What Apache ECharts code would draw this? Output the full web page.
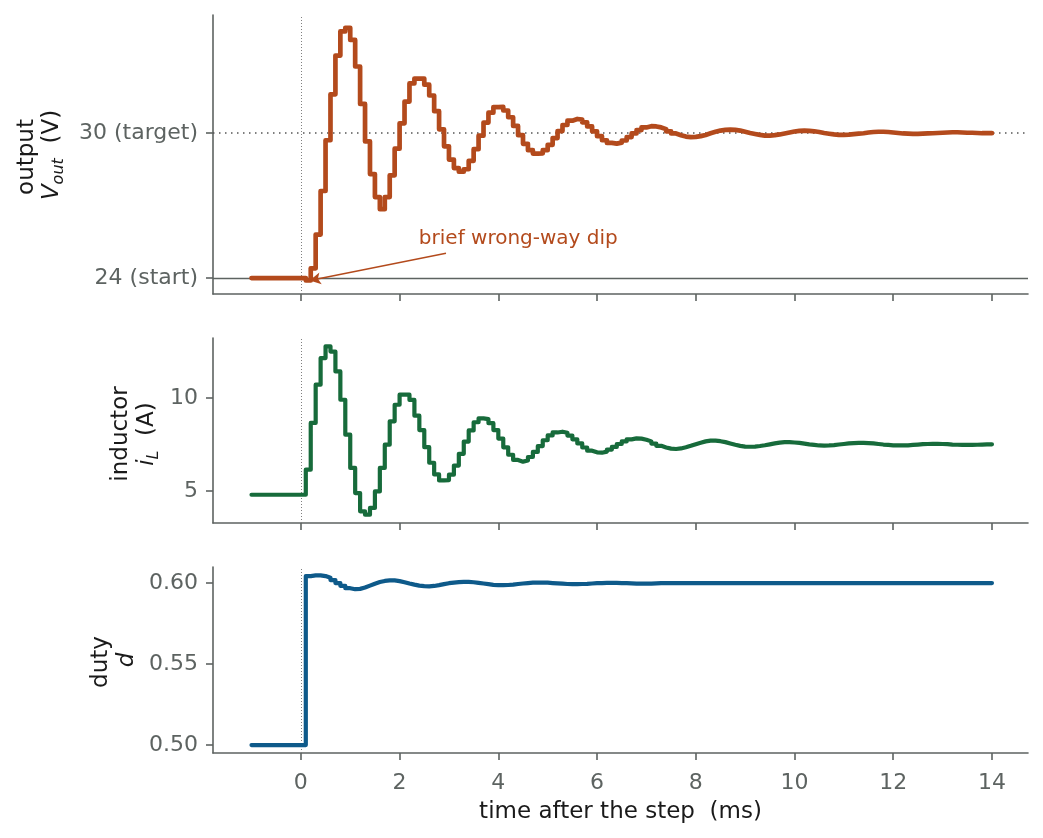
<!DOCTYPE html>
<html>
<head>
<meta charset="utf-8">
<title>boost converter step response</title>
<script src="https://cdn.jsdelivr.net/npm/echarts@6.0.0/dist/echarts.min.js"></script>
<style>
  html, body { margin: 0; padding: 0; background: #ffffff; }
  #chart { width: 1043px; height: 838px; }
</style>
</head>
<body>
<div id="chart"></div>
<script>
// sample clock of the simulation (ms), one sample every 0.1 ms from -1 to 14
var T_START = -1.0;
var T_STEP = 0.1;

// output voltage, V (held between samples)
var vout = [
  24, 24, 24, 24, 24, 24, 24, 24, 24, 24, 24,
  23.9, 24.4, 25.8, 27.6, 29.7, 31.6, 33.2, 34.2, 34.35, 33.85,
  32.75, 31.2, 29.65, 28.3, 27.35, 26.85, 27.35, 28.25, 29.35, 30.4,
  31.3, 32.05, 32.25, 32.25, 32.0, 31.55, 30.9, 30.15, 29.45, 28.9,
  28.55, 28.4, 28.5, 28.85, 29.33, 29.89, 30.43, 30.84, 31.07, 31.08,
  30.93, 30.65, 30.29, 29.91, 29.55, 29.29, 29.15, 29.16, 29.29, 29.51,
  29.79, 30.08, 30.33, 30.51, 30.58, 30.55, 30.44, 30.27, 30.07, 29.87,
  29.70, 29.59, 29.56, 29.6, 29.69, 29.83, 29.98, 30.12, 30.23, 30.28,
  30.27, 30.23, 30.16, 30.07, 29.98, 29.91, 29.85, 29.83, 29.84, 29.87,
  29.92, 29.99, 30.05, 30.1, 30.13, 30.14, 30.13, 30.1, 30.05, 30.0,
  29.96, 29.92, 29.89, 29.89, 29.91, 29.94, 29.98, 30.02, 30.06, 30.09,
  30.1, 30.09, 30.07, 30.04, 30.0, 29.97, 29.94, 29.92, 29.92, 29.93,
  29.95, 29.97, 29.99, 30.02, 30.04, 30.05, 30.05, 30.04, 30.02, 30.0,
  29.98, 29.97, 29.96, 29.96, 29.97, 29.98, 29.99, 30.0, 30.01, 30.02,
  30.03, 30.03, 30.02, 30.01, 30.01, 30.0, 29.99, 29.99, 29.99, 29.99
];

// inductor current, A
var iL = [
  4.8, 4.8, 4.8, 4.8, 4.8, 4.8, 4.8, 4.8, 4.8, 4.8, 4.8,
  6.15, 8.66, 10.72, 12.15, 12.78, 12.5, 11.43, 9.91, 8.03, 6.24,
  4.89, 3.91, 3.73, 4.09, 4.98, 6.24, 7.49, 8.75, 9.64, 10.18,
  10.18, 9.9, 9.05, 8.28, 7.36, 6.52, 5.89, 5.57, 5.59, 5.88,
  6.37, 7.0, 7.66, 8.26, 8.7, 8.91, 8.87, 8.65, 8.28, 7.82,
  7.35, 6.95, 6.67, 6.58, 6.64, 6.83, 7.1, 7.42, 7.73, 7.99,
  8.15, 8.19, 8.13, 7.98, 7.78, 7.56, 7.34, 7.17, 7.08, 7.06,
  7.12, 7.23, 7.37, 7.53, 7.67, 7.78, 7.83, 7.82, 7.76, 7.67,
  7.55, 7.43, 7.34, 7.28, 7.26, 7.29, 7.35, 7.43, 7.52, 7.6,
  7.67, 7.71, 7.71, 7.68, 7.63, 7.56, 7.49, 7.43, 7.39, 7.38,
  7.39, 7.42, 7.46, 7.51, 7.56, 7.6, 7.63, 7.63, 7.61, 7.59,
  7.55, 7.51, 7.48, 7.45, 7.44, 7.45, 7.47, 7.5, 7.53, 7.56,
  7.58, 7.59, 7.59, 7.58, 7.56, 7.53, 7.5, 7.48, 7.46, 7.45,
  7.45, 7.46, 7.48, 7.5, 7.52, 7.53, 7.54, 7.54, 7.53, 7.52,
  7.5, 7.49, 7.48, 7.48, 7.48, 7.49, 7.5, 7.51, 7.51, 7.51
];

// duty cycle
var duty = [
  0.5, 0.5, 0.5, 0.5, 0.5, 0.5, 0.5, 0.5, 0.5, 0.5, 0.5,
  0.6043, 0.6047, 0.6047, 0.6043, 0.6033, 0.6018, 0.6, 0.5983, 0.5968, 0.5962,
  0.5964, 0.5972, 0.5984, 0.5996, 0.6006, 0.6013, 0.6016, 0.6016, 0.6012, 0.6005,
  0.5997, 0.599, 0.5984, 0.5981, 0.598, 0.5982, 0.5987, 0.5993, 0.5999, 0.6003,
  0.6006, 0.6007, 0.6007, 0.6005, 0.6001, 0.5997, 0.5993, 0.5989, 0.5987, 0.5987,
  0.5988, 0.599, 0.5994, 0.5997, 0.6, 0.6002, 0.6003, 0.6003, 0.6002, 0.6,
  0.5998, 0.5996, 0.5994, 0.5993, 0.5993, 0.5994, 0.5995, 0.5997, 0.5999, 0.6,
  0.6001, 0.6001, 0.6001, 0.6, 0.5999, 0.5998, 0.5997, 0.5997, 0.5997, 0.5997,
  0.5998, 0.5999, 0.6, 0.6, 0.6, 0.6, 0.6, 0.5999, 0.5999, 0.5999,
  0.5999, 0.6, 0.6, 0.6, 0.6, 0.6, 0.6, 0.6, 0.6, 0.5999,
  0.5999, 0.5999, 0.5999, 0.6, 0.6, 0.6, 0.6, 0.6, 0.6, 0.6,
  0.6, 0.6, 0.6, 0.6, 0.6, 0.6, 0.6, 0.6, 0.6, 0.6,
  0.6, 0.6, 0.6, 0.6, 0.6, 0.6, 0.6, 0.6, 0.6, 0.6,
  0.6, 0.6, 0.6, 0.6, 0.6, 0.6, 0.6, 0.6, 0.6, 0.6,
  0.6, 0.6, 0.6, 0.6, 0.6, 0.6, 0.6, 0.6, 0.6, 0.6
];

// ticks
var timeTicks = [0, 2, 4, 6, 8, 10, 12, 14];
var voutTicks = [24, 30];
var voutTickLabels = ['24 (start)', '30 (target)'];
var iLTicks = [5, 10];
var dutyTicks = [0.5, 0.55, 0.6];

// reference levels and annotation
var vStart = 24;
var vTarget = 30;
var stepTime = 0;
var annotText = 'brief wrong-way dip';
var annotTextAt = [2.39, 25.61];
var annotArrowFrom = [2.94, 25.03];
var annotArrowTo = [0.18, 23.9];

var time = [];
for (var k = 0; k < vout.length; k++) {
  time.push(Math.round((T_START + k * T_STEP) * 10) / 10);
}

function pairs(vals) {
  return vals.map(function(v, i) { return [time[i], v]; });
}

var FONT = 'DejaVu Sans';
var AXIS_GRAY = '#5d6361';
var LABEL_GRAY = '#5d6361';
var INK = '#1a1a1a';
var C_VOUT = '#b34a1c';
var C_IL = '#176b3b';
var C_DUTY = '#0e5a8a';

var GRID_LEFT = 213, GRID_W = 815;

function xAxisFor(gridIndex, showLabels) {
  var ax = {
    type: 'value',
    gridIndex: gridIndex,
    min: -1.78,
    max: 14.73,
    splitLine: { show: false },
    axisLine: { show: true, onZero: false, lineStyle: { color: AXIS_GRAY, width: 1.6 } },
    axisTick: { show: true, length: 7, customValues: timeTicks, lineStyle: { color: AXIS_GRAY, width: 1.6 } },
    axisLabel: {
      show: showLabels, customValues: timeTicks, margin: 19,
      color: LABEL_GRAY, fontFamily: FONT, fontSize: 22,
      formatter: function(v) { return String(v); }
    }
  };
  if (showLabels) {
    ax.name = 'time after the step  (ms)';
    ax.nameLocation = 'middle';
    ax.nameGap = 48;
    ax.nameTextStyle = { color: INK, fontFamily: FONT, fontSize: 23 };
  }
  return ax;
}

function yAxisFor(gridIndex, min, max, ticks, fmt) {
  return {
    type: 'value',
    gridIndex: gridIndex,
    min: min,
    max: max,
    splitLine: { show: false },
    axisLine: { show: true, onZero: false, lineStyle: { color: AXIS_GRAY, width: 1.6 } },
    axisTick: { show: true, length: 7, customValues: ticks, lineStyle: { color: AXIS_GRAY, width: 1.6 } },
    axisLabel: {
      customValues: ticks, margin: 15,
      color: LABEL_GRAY, fontFamily: FONT, fontSize: 22,
      formatter: fmt
    }
  };
}

var stepLineMark = { xAxis: stepTime, lineStyle: { color: '#808080', width: 1, type: [1, 2] } };

function stepSeries(name, vals, idx, color, width, extraMarks) {
  return {
    name: name,
    type: 'line',
    xAxisIndex: idx,
    yAxisIndex: idx,
    step: 'end',
    data: pairs(vals),
    showSymbol: false,
    symbol: 'none',
    animation: false,
    z: 3,
    lineStyle: { color: color, width: width, join: 'round', cap: 'round' },
    markLine: {
      silent: true,
      symbol: ['none', 'none'],
      z: 1,
      animation: false,
      label: { show: false },
      data: [stepLineMark].concat(extraMarks || [])
    }
  };
}

var chart = echarts.init(document.getElementById('chart'), null, { renderer: 'canvas' });

var option = {
  backgroundColor: '#ffffff',
  animation: false,
  textStyle: { fontFamily: FONT },
  grid: [
    { left: GRID_LEFT, top: 15, width: GRID_W, height: 279 },
    { left: GRID_LEFT, top: 338, width: GRID_W, height: 185 },
    { left: GRID_LEFT, top: 567, width: GRID_W, height: 186 }
  ],
  xAxis: [xAxisFor(0, false), xAxisFor(1, false), xAxisFor(2, true)],
  yAxis: [
    yAxisFor(0, 23.34, 34.88, voutTicks, function(v) {
      var i = voutTicks.indexOf(v);
      return i >= 0 ? voutTickLabels[i] : '';
    }),
    yAxisFor(1, 3.28, 13.23, iLTicks, function(v) { return String(v); }),
    yAxisFor(2, 0.4951, 0.6099, dutyTicks, function(v) { return v.toFixed(2); })
  ],
  series: [
    stepSeries('Vout', vout, 0, C_VOUT, 4.7, [
      { yAxis: vTarget, lineStyle: { color: '#555555', width: 1.5, type: [1.5, 4.5] } },
      { yAxis: vStart, lineStyle: { color: AXIS_GRAY, width: 1.3, type: 'solid' } }
    ]),
    stepSeries('iL', iL, 1, C_IL, 4.2),
    stepSeries('duty', duty, 2, C_DUTY, 4.2),
    {
      // annotation arrow
      name: 'annot',
      type: 'line',
      xAxisIndex: 0,
      yAxisIndex: 0,
      data: [],
      silent: true,
      markLine: {
        silent: true,
        z: 6,
        animation: false,
        symbol: ['none', 'arrow'],
        symbolSize: [9, 11],
        label: { show: false },
        lineStyle: { color: C_VOUT, width: 1.5, type: 'solid' },
        data: [[
          { coord: annotArrowFrom, symbol: 'none' },
          { coord: annotArrowTo, symbol: 'arrow' }
        ]]
      }
    }
  ]
};

chart.setOption(option);

// text placed from data coordinates once the grids exist
var tp = chart.convertToPixel({ xAxisIndex: 0, yAxisIndex: 0 }, annotTextAt);

function yName(x, y, text, rich) {
  return {
    type: 'text',
    x: x,
    y: y,
    rotation: Math.PI / 2,
    silent: true,
    style: {
      text: text,
      fill: INK,
      fontFamily: FONT,
      fontSize: 23,
      align: 'center',
      verticalAlign: 'middle',
      textAlign: 'center',
      textVerticalAlign: 'middle',
      rich: rich
    }
  };
}

var mathRich = {
  m: { fontFamily: FONT, fontSize: 23, fontStyle: 'italic', fill: INK, lineHeight: 30 },
  s: { fontFamily: FONT, fontSize: 16, fontStyle: 'italic', fill: INK, verticalAlign: 'bottom', lineHeight: 16 },
  n: { fontFamily: FONT, fontSize: 23, fill: INK, lineHeight: 30 }
};

chart.setOption({
  graphic: [
    {
      type: 'text',
      x: tp[0],
      y: tp[1],
      silent: true,
      style: {
        text: annotText,
        fill: C_VOUT,
        fontFamily: FONT,
        fontSize: 20,
        align: 'left',
        verticalAlign: 'middle',
        textAlign: 'left',
        textVerticalAlign: 'middle'
      }
    },
    yName(27, 157, 'output'),
    yName(52, 155, '{m|V}{s|out}{n|  (V)}', mathRich),
    yName(121, 434, 'inductor'),
    yName(147, 434, '{m|i}{s|L}{n|  (A)}', mathRich),
    yName(101, 662, 'duty'),
    yName(127, 660, '{m|d}', mathRich)
  ]
});
</script>
</body>
</html>
